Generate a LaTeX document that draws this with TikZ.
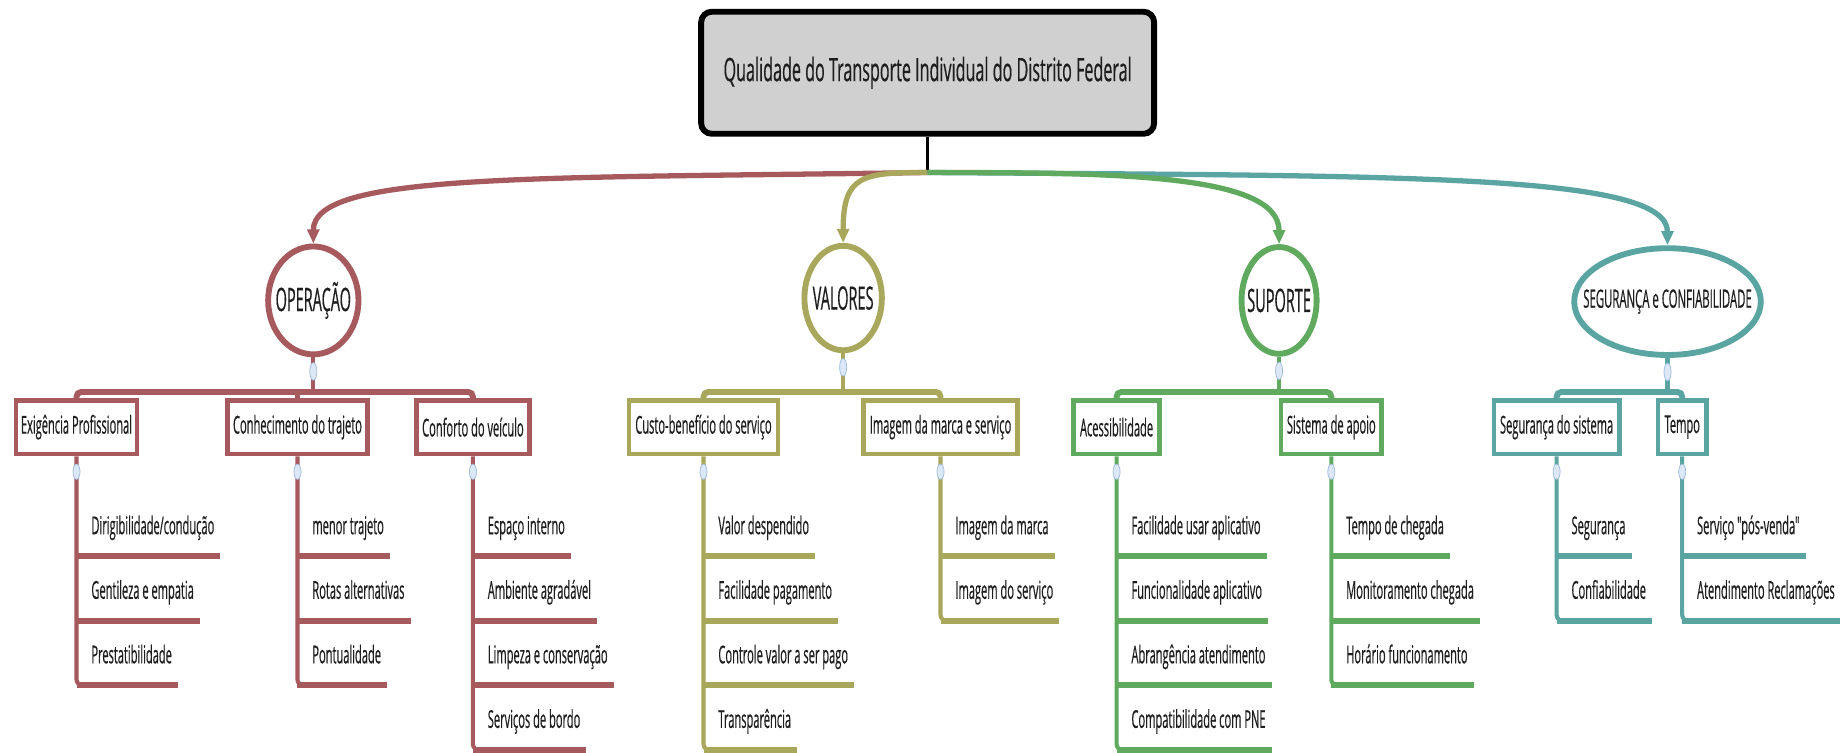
\documentclass[tikz,border=0pt]{standalone}
\usepackage{fontspec}
\setmainfont{Open Sans}[FakeStretch=0.5,FakeBold=0.4]
\newfontfamily\narrowfont{Open Sans}[FakeStretch=0.45,FakeBold=0.4]
\usetikzlibrary{shapes.geometric,arrows.meta,calc}

\definecolor{cop}{HTML}{A65A5E}
\definecolor{cval}{HTML}{A9A75B}
\definecolor{csup}{HTML}{5FAA5E}
\definecolor{cseg}{HTML}{5AA4A2}
\definecolor{rootfill}{HTML}{D0D0D0}
\definecolor{txt}{HTML}{1E1E1E}
\definecolor{mkfill}{HTML}{DCE8F6}
\definecolor{mkdraw}{HTML}{9DB9DA}

\tikzset{
  rootbox/.style={draw=black, line width=5pt, fill=rootfill, rounded corners=9pt,
    inner sep=0pt, text=txt, font=\fontsize{27.5}{30}\selectfont},
  topic/.style={ellipse, draw=#1, line width=5pt, fill=white, inner sep=0pt},
  topictext/.style={text=txt, inner sep=0pt, font=\narrowfont\fontsize{27.5}{30}\selectfont},
  subbox/.style={draw=#1, line width=4pt, fill=white, inner sep=0pt,
    minimum height=46pt, text=txt, font=\narrowfont\fontsize{21}{24}\selectfont},
  leaf/.style={anchor=west, inner sep=0pt, text=txt,
    font=\narrowfont\fontsize{21}{24}\selectfont, text height=15pt, text depth=4.5pt},
  arrowcurve/.style={draw=#1, line width=4.5pt, -{Triangle[length=12pt,width=10pt]}},
  bar/.style={draw=#1, line width=5pt, rounded corners=4pt},
  stem/.style={draw=#1, line width=3.5pt},
  uline/.style={draw=#1, line width=5pt},
  marker/.style={ellipse, draw=mkdraw, fill=mkfill, line width=0.6pt,
    minimum width=6pt, minimum height=15pt, inner sep=0pt},
}

% one item of a branch list: text plus its underline
\newcommand\branchleaf[5]{%
  \node[leaf] (#1) at ($(#2.south |- 0,#3)+(12.5,0)$) {#5};
  \draw[uline=#4] (#2.south |- 0,#3+24) -- ($(#1.east |- 0,#3+24)+(5,0)$);
}
% vertical stem below a box, ending in a rounded corner
\newcommand\branchstem[3]{%
  \draw[stem=#2, rounded corners=5pt] (#1.south) -- (#1.south |- 0,#3)
    -- ($(#1.south |- 0,#3)+(10,0)$);
}

\begin{document}
\begin{tikzpicture}[x=1pt,y=-1pt]
\useasboundingbox (0,0) rectangle (1568,641);
\fill[white] (0,0) rectangle (1568,641);

% ---- central topic
\node[rootbox, minimum width=386pt, minimum height=104pt] (root) at (790.5,62)
  {Qualidade do Transporte Individual do Distrito Federal};
\coordinate (hub) at (790.5,147);
\draw[line width=3pt] (root.south) -- (hub);

% ---- main topics
\node[topic=cop,  minimum width=77pt,  minimum height=92pt] (op)  at (267,256)  {};
\node[topic=cval, minimum width=66pt,  minimum height=89pt] (val) at (718.5,254) {};
\node[topic=csup, minimum width=64pt,  minimum height=91pt] (sup) at (1090,256) {};
\node[topic=cseg, minimum width=159pt, minimum height=91pt] (seg) at (1421,257) {};
\node[topictext] (opt)  at (op)  {OPERAÇÃO};
\node[topictext] (valt) at (val) {VALORES};
\node[topictext] (supt) at (sup) {SUPORTE};
\node[topictext, font=\narrowfont\fontsize{21.5}{24}\selectfont] (segt) at (seg) {SEGURANÇA e CONFIABILIDADE};

\draw[arrowcurve=cop]  (hub) .. controls (450,152)  and ($(op.north)+(0,-60)$)  .. (op.north);
\draw[arrowcurve=cval] (hub) .. controls (735,147)  and ($(val.north)+(0,-58)$) .. (val.north);
\draw[arrowcurve=cseg] (hub) .. controls (1200,150) and ($(seg.north)+(0,-61)$) .. (seg.north);
\draw[arrowcurve=csup] (hub) .. controls (950,147)  and ($(sup.north)+(0,-60)$) .. (sup.north);

% ---- sub-topic boxes
\node[subbox=cop,  minimum width=103pt] (exi) at (65.2,364)  {Exigência Profissional};
\node[subbox=cop,  minimum width=119pt] (con) at (253.5,364) {Conhecimento do trajeto};
\node[subbox=cop,  minimum width=96pt]  (cfv) at (403,364)   {Conforto do veículo};
\node[subbox=cval, minimum width=127pt] (cus) at (599.5,364) {Custo-benefício do serviço};
\node[subbox=cval, minimum width=131pt] (ima) at (801.5,364) {Imagem da marca e serviço};
\node[subbox=csup, minimum width=73pt]  (ace) at (951.5,364) {Acessibilidade};
\node[subbox=csup, minimum width=86pt]  (sis) at (1134.5,364){Sistema de apoio};
\node[subbox=cseg, minimum width=107pt] (ssi) at (1326.5,364){Segurança do sistema};
\node[subbox=cseg, minimum width=41pt]  (tem) at (1433.5,364){Tempo};

% ---- brackets from topics to sub-topics
\draw[stem=cop]  (op.south)  -- (op.south |- 0,334);
\draw[bar=cop]   (exi.north) -- (exi.north |- 0,334) -- (cfv.north |- 0,334) -- (cfv.north);
\draw[stem=cop]  (con.north) -- (con.north |- 0,334);
\draw[stem=cval] (val.south) -- (val.south |- 0,334);
\draw[bar=cval]  (cus.north) -- (cus.north |- 0,334) -- (ima.north |- 0,334) -- (ima.north);
\draw[stem=csup] (sup.south) -- (sup.south |- 0,334);
\draw[bar=csup]  (ace.north) -- (ace.north |- 0,334) -- (sis.north |- 0,334) -- (sis.north);
\draw[stem=cseg] (seg.south) -- (seg.south |- 0,334);
\draw[bar=cseg]  (ssi.north) -- (ssi.north |- 0,334) -- (tem.north |- 0,334) -- (tem.north);

% ---- item lists
\branchstem{exi}{cop}{584}
\branchleaf{exi1}{exi}{450}{cop}{Dirigibilidade/condução}
\branchleaf{exi2}{exi}{505}{cop}{Gentileza e empatia}
\branchleaf{exi3}{exi}{560}{cop}{Prestatibilidade}

\branchstem{con}{cop}{584}
\branchleaf{con1}{con}{450}{cop}{menor trajeto}
\branchleaf{con2}{con}{505}{cop}{Rotas alternativas}
\branchleaf{con3}{con}{560}{cop}{Pontualidade}

\branchstem{cfv}{cop}{639}
\branchleaf{cfv1}{cfv}{450}{cop}{Espaço interno}
\branchleaf{cfv2}{cfv}{505}{cop}{Ambiente agradável}
\branchleaf{cfv3}{cfv}{560}{cop}{Limpeza e conservação}
\branchleaf{cfv4}{cfv}{615}{cop}{Serviços de bordo}

\branchstem{cus}{cval}{639}
\branchleaf{cus1}{cus}{450}{cval}{Valor despendido}
\branchleaf{cus2}{cus}{505}{cval}{Facilidade pagamento}
\branchleaf{cus3}{cus}{560}{cval}{Controle valor a ser pago}
\branchleaf{cus4}{cus}{615}{cval}{Transparência}

\branchstem{ima}{cval}{529}
\branchleaf{ima1}{ima}{450}{cval}{Imagem da marca}
\branchleaf{ima2}{ima}{505}{cval}{Imagem do serviço}

\branchstem{ace}{csup}{639}
\branchleaf{ace1}{ace}{450}{csup}{Facilidade usar aplicativo}
\branchleaf{ace2}{ace}{505}{csup}{Funcionalidade aplicativo}
\branchleaf{ace3}{ace}{560}{csup}{Abrangência atendimento}
\branchleaf{ace4}{ace}{615}{csup}{Compatibilidade com PNE}

\branchstem{sis}{csup}{584}
\branchleaf{sis1}{sis}{450}{csup}{Tempo de chegada}
\branchleaf{sis2}{sis}{505}{csup}{Monitoramento chegada}
\branchleaf{sis3}{sis}{560}{csup}{Horário funcionamento}

\branchstem{ssi}{cseg}{529}
\branchleaf{ssi1}{ssi}{450}{cseg}{Segurança}
\branchleaf{ssi2}{ssi}{505}{cseg}{Confiabilidade}

\branchstem{tem}{cseg}{529}
\branchleaf{tem1}{tem}{450}{cseg}{Serviço "pós-venda"}
\branchleaf{tem2}{tem}{505}{cseg}{Atendimento Reclamações}

% ---- collapse markers
\foreach \t in {op,val,sup,seg}
  \node[marker] at ($(\t.south)+(0,12)$) {};
\foreach \b in {exi,con,cfv,cus,ima,ace,sis,ssi,tem}
  \node[marker, minimum height=13pt] at ($(\b.south)+(0,13)$) {};
\end{tikzpicture}
\end{document}
